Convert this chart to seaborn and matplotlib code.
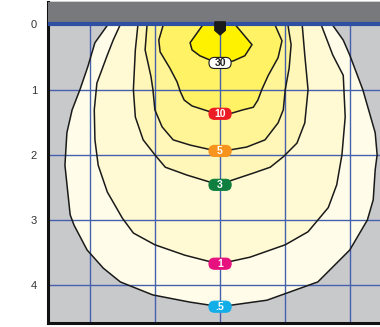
import matplotlib
matplotlib.use("Agg")
import matplotlib.pyplot as plt
from matplotlib.patches import FancyBboxPatch, Polygon
import seaborn as sns

# isolux contours (metres): outline goes from the
# top-left point down to the bottom centre and back up the right side
ISO_05_X = [-1.72, -1.92, -2.03, -2.15, -2.27, -2.35, -2.38, -2.30, -2.24, -2.04, -1.79, -1.53, -1.03, -0.46, 0.0,
            0.72, 1.50, 1.99, 2.26, 2.35, 2.38, 2.41, 2.38, 2.19, 1.99, 1.89, 1.72]
ISO_05_Y = [0.0, 0.28, 0.65, 1.0, 1.31, 1.66, 2.16, 2.92, 3.08, 3.46, 3.74, 3.95, 4.15, 4.26, 4.33,
            4.23, 3.95, 3.46, 3.0, 2.69, 2.23, 2.0, 1.66, 1.0, 0.47, 0.24, 0.0]

ISO_1_X = [-1.53, -1.64, -1.73, -1.89, -1.93, -1.92, -1.87, -1.73, -1.50, -1.33, -1.0, -0.54, -0.15, 0.0,
           0.46, 1.0, 1.35, 1.66, 1.79, 1.87, 1.92, 1.89, 1.73, 1.55]
ISO_1_Y = [0.0, 0.24, 0.47, 0.9, 1.31, 1.77, 2.16, 2.57, 2.97, 3.2, 3.38, 3.54, 3.64, 3.67,
           3.57, 3.38, 3.18, 2.81, 2.46, 2.0, 1.42, 0.78, 0.47, 0.0]

ISO_3_X = [-1.26, -1.30, -1.33, -1.30, -1.18, -1.0, -0.84, -0.51, -0.15, 0.0,
           0.18, 0.51, 0.77, 0.97, 1.18, 1.30, 1.35, 1.30, 1.26]
ISO_3_Y = [0.0, 0.39, 1.0, 1.42, 1.77, 2.0, 2.19, 2.31, 2.42, 2.46,
           2.39, 2.28, 2.19, 2.03, 1.82, 1.51, 1.0, 0.47, 0.0]

ISO_5_X = [-1.12, -1.15, -1.06, -1.03, -1.0, -0.89, -0.72, -0.46, -0.15, 0.0,
           0.18, 0.41, 0.69, 0.89, 0.97, 1.0, 1.06, 1.09, 1.04]
ISO_5_Y = [0.0, 0.39, 0.8, 1.0, 1.31, 1.57, 1.77, 1.85, 1.92, 1.94,
           1.92, 1.88, 1.77, 1.51, 1.31, 1.0, 0.67, 0.31, 0.0]

ISO_10_X = [-0.87, -0.94, -0.92, -0.77, -0.66, -0.61, -0.55, -0.43, -0.15, 0.0,
            0.18, 0.35, 0.51, 0.58, 0.64, 0.74, 0.89, 0.95, 0.84]
ISO_10_Y = [0.0, 0.24, 0.42, 0.67, 0.88, 1.03, 1.16, 1.25, 1.34, 1.37,
            1.36, 1.31, 1.27, 1.16, 1.0, 0.78, 0.51, 0.25, 0.0]

ISO_30_X = [-0.26, -0.46, -0.43, -0.31, -0.12, 0.0, 0.20, 0.38, 0.49, 0.23]
ISO_30_Y = [0.0, 0.28, 0.39, 0.48, 0.56, 0.59, 0.56, 0.48, 0.31, 0.0]

LEVEL_NAMES = [".5", "1", "3", "5", "10", "30"]
LEVEL_FILL = ["#fffde9", "#fffad3", "#fff6b9", "#fff496", "#fff264", "#fff200"]
BADGE_FILL = ["#12aee8", "#e6117e", "#0f7f3f", "#f7941d", "#ec1c24", "#ffffff"]
BADGE_TEXT = ["white", "white", "white", "white", "white", "#222222"]

Y_TICKS = [0, 1, 2, 3, 4]
X_GRID = [-2, -1, 0, 1, 2]

contours = [
    (ISO_05_X, ISO_05_Y),
    (ISO_1_X, ISO_1_Y),
    (ISO_3_X, ISO_3_Y),
    (ISO_5_X, ISO_5_Y),
    (ISO_10_X, ISO_10_Y),
    (ISO_30_X, ISO_30_Y),
]

sns.set_style("white")
plt.rcParams["font.family"] = ["Liberation Sans", "DejaVu Sans"]

fig = plt.figure(figsize=(3.8, 3.27), dpi=100)
ax = fig.add_axes([48 / 380, 4 / 327, 335 / 380, 321 / 327])
ax.set_facecolor("#c8c9cb")

# filled bands, outermost first
for (xs, ys), col in zip(contours, LEVEL_FILL):
    ax.fill(xs, ys, color=col, lw=0, zorder=1)

grid_col = "#4660ad"
for gx in X_GRID:
    ax.axvline(gx, color=grid_col, lw=1.0, zorder=2)
for gy in Y_TICKS[1:]:
    ax.axhline(gy, color=grid_col, lw=1.0, zorder=2)

for xs, ys in contours:
    sns.lineplot(x=xs, y=ys, sort=False, estimator=None, color="#1a1a1a",
                 lw=1.1, ax=ax, zorder=3)

# ceiling band with the luminaire
ax.axhspan(-0.345, -0.03, color="#78797c", zorder=4, lw=0)
ax.axhline(0, color="#2f4fa3", lw=3.0, zorder=5)
ax.add_patch(Polygon([(-0.08, -0.04), (0.08, -0.04), (0.08, 0.09), (0.0, 0.16), (-0.08, 0.09)],
                     closed=True, color="#1a1a1a", zorder=6))

# level badges at the bottom of each contour
bw, bh = 0.34, 0.17
for (xs, ys), name, fc, tc in zip(contours, LEVEL_NAMES, BADGE_FILL, BADGE_TEXT):
    yb = max(ys)
    ax.add_patch(FancyBboxPatch((-bw / 2, yb - bh / 2), bw, bh,
                                boxstyle="round,pad=0,rounding_size=0.085",
                                fc=fc, ec="#1a1a1a" if fc == "#ffffff" else fc,
                                lw=0.8, zorder=7))
    ax.text(0, yb + 0.005, name, ha="center", va="center", color=tc,
            fontsize=7.5, fontweight="bold", zorder=8)

ax.set_xlim(-2.64, 2.50)
ax.set_ylim(4.58, -0.345)
ax.set_yticks(Y_TICKS)
ax.set_yticklabels([str(t) for t in Y_TICKS], fontsize=8, color="#333333")
ax.set_xticks([])
ax.tick_params(axis="y", length=0, pad=8)
ax.set_xlabel("")
ax.set_ylabel("")

for side in ["left", "bottom"]:
    ax.spines[side].set_linewidth(2.2)
    ax.spines[side].set_color("#111111")
ax.spines["top"].set_linewidth(1.0)
ax.spines["top"].set_color("#111111")
ax.spines["right"].set_visible(False)

fig.savefig("out.png", dpi=100)
